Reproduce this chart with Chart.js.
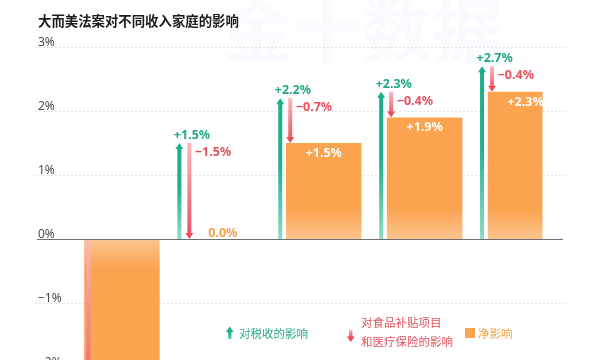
<!DOCTYPE html>
<html>
<head>
<meta charset="utf-8">
<script src="https://cdn.jsdelivr.net/npm/chart.js@4"></script>
<style>
  html, body { margin: 0; padding: 0; background: #fff; overflow: hidden; }
  #wrap { width: 600px; height: 400px; }
</style>
</head>
<body>
<div id="wrap"><canvas id="chart" width="600" height="400"></canvas></div>
<script>
// ─── Data ─────────────────────────────────────────────
const groups = ['最低收入', '中低收入', '中等收入', '中高收入', '最高收入'];
const taxEffect = [0.0, 1.5, 2.2, 2.3, 2.7];        // 对税收的影响
const benefitEffect = [-2.9, -1.5, -0.7, -0.4, -0.4]; // 对食品补贴项目和医疗保险的影响
const netEffect = [-2.9, 0.0, 1.5, 1.9, 2.3];         // 净影响
const yTicks = [3, 2, 1, 0, -1, -2];

// ─── Styles ───────────────────────────────────────────
const GREEN = '#1caf89', GREEN_LIGHT = '#8edbc6', GREEN_TEXT = '#1ea985';
const RED = '#e84f5b', RED_LIGHT = '#f8b9be', RED_TEXT = '#e4515d';
const ORANGE = '#fba34f', ORANGE_LIGHT = '#fdc590', ORANGE_TEXT = '#f5a049';
const HEAD_HALF = 4, HEAD_H = 6;
const NUM_FONT = "bold 12.5px 'Noto Sans', sans-serif";
const CJK = "'Noto Sans CJK SC', sans-serif";

const fmt = v => (v > 0 ? '+' : v < 0 ? '−' : '') + Math.abs(v).toFixed(1) + '%';
const tickFmt = v => (v < 0 ? '−' + Math.abs(v) : v) + '%';

const startOf = (di, i) => di === 0 ? 0 : taxEffect[i];
const endOf = (di, i) => di === 0 ? taxEffect[i] : taxEffect[i] + benefitEffect[i];
const lenOf = (di, i) => di === 0 ? taxEffect[i] : benefitEffect[i];

function shaftColor(di, light, dark, stop) {
  return (c) => {
    const ys = c.chart.scales.y;
    if (c.type !== 'data' || !ys) return dark;
    const y0 = ys.getPixelForValue(startOf(di, c.dataIndex));
    const y1 = ys.getPixelForValue(endOf(di, c.dataIndex));
    if (!isFinite(y0) || !isFinite(y1) || Math.abs(y1 - y0) < 1) return dark;
    const g = c.chart.ctx.createLinearGradient(0, y0, 0, y1);
    g.addColorStop(0, light);
    g.addColorStop(stop, dark);
    g.addColorStop(1, dark);
    return g;
  };
}

function netColor(c) {
  const ys = c.chart.scales.y;
  if (c.type !== 'data' || !ys) return ORANGE;
  const z = ys.getPixelForValue(0);
  if (!isFinite(z)) return ORANGE;
  const dir = netEffect[c.dataIndex] >= 0 ? -1 : 1;
  const g = c.chart.ctx.createLinearGradient(0, z, 0, z + dir * 30);
  g.addColorStop(0, ORANGE_LIGHT);
  g.addColorStop(1, ORANGE);
  return g;
}

// arrow tip geometry from the y scale
function headOf(chart, di, i) {
  const len = lenOf(di, i);
  if (!len) return null;
  const bar = chart.getDatasetMeta(di).data[i];
  const tip = chart.scales.y.getPixelForValue(endOf(di, i));
  const dir = len > 0 ? 1 : -1; // 1 = arrow points up
  return { x: bar.x, tip, base: tip + dir * HEAD_H, dir };
}

function triangle(ctx, x, tip, base, half, color) {
  ctx.beginPath();
  ctx.moveTo(x, tip);
  ctx.lineTo(x + half, base);
  ctx.lineTo(x - half, base);
  ctx.closePath();
  ctx.fillStyle = color;
  ctx.fill();
}

// ─── Plugins ──────────────────────────────────────────
const backdrop = {
  id: 'backdrop',
  beforeDatasetsDraw(chart) {
    const { ctx } = chart;
    const ys = chart.scales.y;
    ctx.save();
    // watermark
    ctx.font = "bold 70px " + CJK;
    ctx.fillStyle = 'rgba(70,100,190,0.035)';
    ctx.textBaseline = 'middle';
    ctx.textAlign = 'left';
    ctx.fillText('金十数据', 222, 30);
    // title
    ctx.font = "bold 13.4px " + CJK;
    ctx.fillStyle = '#1c1c1c';
    ctx.fillText('大而美法案对不同收入家庭的影响', 38, 20.5);
    // grid + tick labels
    ctx.font = "12px 'Noto Sans', sans-serif";
    yTicks.forEach(v => {
      const y = Math.round(ys.getPixelForValue(v)) + 0.5;
      if (v !== 0) {
        ctx.strokeStyle = '#e2e2e2';
        ctx.lineWidth = 1;
        ctx.setLineDash([2, 2]);
        ctx.beginPath();
        ctx.moveTo(35, y);
        ctx.lineTo(565, y);
        ctx.stroke();
      }
      ctx.fillStyle = '#4a4a4a';
      ctx.textBaseline = 'alphabetic';
      ctx.fillText(tickFmt(v), 38, y - 1.5);
    });
    ctx.restore();
  }
};

const shaftClip = {
  id: 'shaftClip',
  beforeDatasetDraw(chart, args) {
    if (args.index > 1) return;
    const { ctx } = chart;
    ctx.save();
    ctx.beginPath();
    ctx.rect(0, 0, chart.width, chart.height);
    groups.forEach((g, i) => {
      const h = headOf(chart, args.index, i);
      if (!h) return;
      ctx.rect(h.x - 3, h.dir > 0 ? h.tip - 1 : h.base + 1, 6, HEAD_H);
    });
    ctx.clip('evenodd');
  },
  afterDatasetDraw(chart, args) {
    if (args.index > 1) return;
    chart.ctx.restore();
  }
};

const overlay = {
  id: 'overlay',
  afterDatasetsDraw(chart) {
    const { ctx } = chart;
    const ys = chart.scales.y;
    const zero = Math.round(ys.getPixelForValue(0)) + 0.5;
    ctx.save();
    // zero line
    ctx.strokeStyle = '#707070';
    ctx.lineWidth = 1;
    ctx.beginPath();
    ctx.moveTo(37, zero);
    ctx.lineTo(563, zero);
    ctx.stroke();

    // arrow heads + arrow labels
    ctx.font = NUM_FONT;
    ctx.textBaseline = 'middle';
    groups.forEach((g, i) => {
      const gh = headOf(chart, 0, i);
      if (gh) {
        triangle(ctx, gh.x, gh.tip, gh.base, HEAD_HALF, GREEN);
        ctx.fillStyle = GREEN_TEXT;
        ctx.textAlign = 'left';
        ctx.fillText(fmt(taxEffect[i]), gh.x - 5.5, gh.tip - 7.5);
      }
      const rh = headOf(chart, 1, i);
      if (rh) {
        triangle(ctx, rh.x, rh.tip, rh.base, HEAD_HALF, RED);
        ctx.fillStyle = RED_TEXT;
        ctx.textAlign = 'left';
        if (taxEffect[i] > 0) {
          const top = ys.getPixelForValue(startOf(1, i));
          ctx.fillText(fmt(benefitEffect[i]), rh.x + 5.5, top + 9.5);
        } else {
          // no tax arrow: label sits beside the arrow tip
          ctx.textAlign = 'right';
          ctx.fillText(fmt(benefitEffect[i]), rh.x - 5, rh.tip + 8);
        }
      }
    });

    // net labels
    const netMeta = chart.getDatasetMeta(2);
    netMeta.data.forEach((bar, i) => {
      const v = netEffect[i];
      const yv = ys.getPixelForValue(v);
      ctx.textAlign = 'center';
      if (v === 0) {
        ctx.fillStyle = ORANGE_TEXT;
        ctx.fillText(fmt(v), bar.x, zero - 6.5);
      } else {
        ctx.fillStyle = '#ffffff';
        ctx.fillText(fmt(v), bar.x, v > 0 ? yv + 10.5 : yv - 10.5);
      }
    });

    // legend
    ctx.textAlign = 'left';
    ctx.textBaseline = 'middle';
    ctx.font = "11.5px " + CJK;
    let lg = ctx.createLinearGradient(0, 332, 0, 339);
    lg.addColorStop(0, GREEN); lg.addColorStop(1, '#6fd0b6');
    ctx.fillStyle = lg;
    ctx.fillRect(228, 331, 3.5, 8);
    triangle(ctx, 229.75, 326.5, 332, 3.8, GREEN);
    ctx.fillStyle = '#27a987';
    ctx.fillText('对税收的影响', 239, 334);
    lg = ctx.createLinearGradient(0, 330, 0, 337);
    lg.addColorStop(0, RED_LIGHT); lg.addColorStop(1, RED);
    ctx.fillStyle = lg;
    ctx.fillRect(349, 330, 3.5, 7.5);
    triangle(ctx, 350.75, 342, 336.5, 4, RED);
    ctx.fillStyle = '#e0525c';
    ctx.fillText('对食品补贴项目', 361, 323);
    ctx.fillText('和医疗保险的影响', 361, 342);
    ctx.fillStyle = ORANGE;
    ctx.fillRect(465, 328, 10, 10);
    ctx.fillStyle = ORANGE_TEXT;
    ctx.fillText('净影响', 478, 334);
    ctx.restore();
  }
};

// ─── Chart ────────────────────────────────────────────
new Chart(document.getElementById('chart'), {
  type: 'bar',
  data: {
    labels: groups,
    datasets: [
      {
        label: '对税收的影响',
        data: taxEffect.map(v => [0, v]),
        backgroundColor: shaftColor(0, GREEN_LIGHT, GREEN, 0.55),
        categoryPercentage: 0.2973,
        barPercentage: 0.4
      },
      {
        label: '对食品补贴项目和医疗保险的影响',
        data: benefitEffect.map((v, i) => [taxEffect[i], taxEffect[i] + v]),
        backgroundColor: shaftColor(1, RED_LIGHT, RED, 1),
        categoryPercentage: 0.2973,
        barPercentage: 0.4
      },
      {
        label: '净影响',
        data: netEffect,
        backgroundColor: netColor,
        categoryPercentage: 0.996,
        barPercentage: 2.254
      }
    ]
  },
  options: {
    responsive: false,
    animation: false,
    devicePixelRatio: 1,
    layout: { padding: { left: 38, right: 57.5, top: 47, bottom: 1 } },
    plugins: { legend: { display: false }, tooltip: { enabled: false } },
    scales: {
      x: { display: false },
      y: { display: false, min: -2.5, max: 3 }
    }
  },
  plugins: [backdrop, shaftClip, overlay]
});
</script>
</body>
</html>
